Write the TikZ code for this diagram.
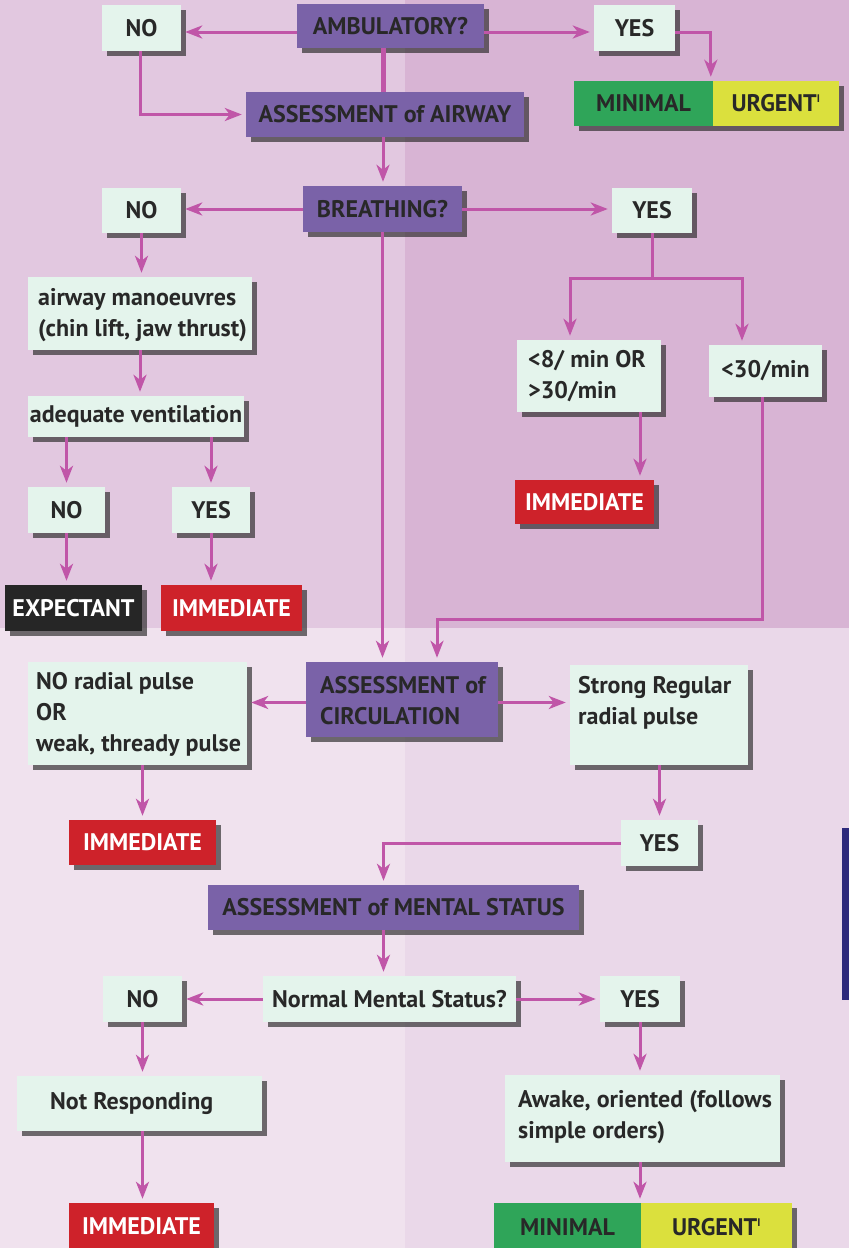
\documentclass[tikz,border=0pt]{standalone}
\usepackage{fontspec}
\setmainfont{PT Sans}
\usetikzlibrary{arrows.meta,shadows}
\definecolor{bgTL}{RGB}{226,200,224}
\definecolor{bgTR}{RGB}{216,180,212}
\definecolor{bgBL}{RGB}{240,226,238}
\definecolor{bgBR}{RGB}{234,216,233}
\definecolor{mint}{RGB}{228,244,236}
\definecolor{purp}{RGB}{122,98,168}
\definecolor{redb}{RGB}{206,34,42}
\definecolor{grn}{RGB}{47,165,89}
\definecolor{yel}{RGB}{219,224,61}
\definecolor{blk}{RGB}{38,38,38}
\definecolor{arr}{RGB}{192,86,168}
\definecolor{txt}{RGB}{40,40,40}
\definecolor{barc}{RGB}{46,42,124}
\newcommand\bx[7]{\node[#1, minimum width={(#5)-(#3)}, minimum height={(#6)-(#4)}] (#2) at ({((#3)+(#5))/2},{((#4)+(#6))/2}) {#7};}
\begin{document}
\begin{tikzpicture}[x=1pt,y=-1pt,
  base/.style={rectangle, inner sep=0pt, font=\bfseries\fontsize{24}{31}\selectfont, text=txt,
    drop shadow={shadow xshift=5pt, shadow yshift=-5pt, opacity=0.65, fill=black!85}},
  lightbox/.style={base, fill=mint},
  purplebox/.style={base, fill=purp},
  redbox/.style={base, fill=redb, text=white},
  greenbox/.style={base, fill=grn},
  yellowbox/.style={base, fill=yel},
  blackbox/.style={base, fill=blk, text=white},
  lbl/.style={inner sep=0pt, align=left, anchor=west, font=\bfseries\fontsize{24}{31}\selectfont, text=txt},
  conn/.style={draw=arr, line width=3pt},
  arw/.style={conn, -{Stealth[length=17pt,width=13pt,inset=5pt]}, shorten >=4pt},
]
\useasboundingbox (0,0) rectangle (849,1248);
\fill[bgTL] (0,0) rectangle (405,628);
\fill[bgTR] (405,0) rectangle (849,628);
\fill[bgBL] (0,628) rectangle (405,1248);
\fill[bgBR] (405,628) rectangle (849,1248);
\fill[barc] (842,828) rectangle (849,1000);

% boxes
\bx{lightbox}{no1}{102}{5}{181}{51}{NO}
\bx{purplebox}{amb}{297}{4}{484}{48}{AMBULATORY?}
\bx{lightbox}{yes1}{594}{5}{675}{51}{YES}
\bx{greenbox}{min1}{574}{81}{713}{126}{MINIMAL}
\bx{yellowbox}{urg1}{713}{81}{839}{126}{URGENT\textsuperscript{\fontsize{11}{11}\selectfont I}}
\bx{purplebox}{airw}{246}{92}{524}{137}{ASSESSMENT of AIRWAY}
\bx{lightbox}{no2}{102}{188}{181}{233}{NO}
\bx{purplebox}{breath}{303}{186}{462}{232}{BREATHING?}
\bx{lightbox}{yes2}{612}{188}{692}{233}{YES}
\bx{lightbox}{airman}{28}{277}{252}{350}{}
\node[lbl] (airmanT) at (38,315.5) {airway manoeuvres\\(chin lift, jaw thrust)};
\bx{lightbox}{lo8}{517}{340}{661}{412}{}
\node[lbl] (lo8T) at (528,376) {<8/ min OR\\>30/min};
\bx{lightbox}{lo30}{709}{345}{822}{397}{<30/min}
\bx{lightbox}{adeq}{28}{396}{244}{437}{adequate ventilation}
\bx{lightbox}{no3}{28}{487}{105}{533}{NO}
\bx{lightbox}{yes5}{172}{487}{250}{533}{YES}
\bx{redbox}{imm1}{515}{480}{654}{524}{IMMEDIATE}
\bx{blackbox}{exp}{5}{585}{142}{631}{EXPECTANT}
\bx{redbox}{imm4}{161}{585}{302}{631}{IMMEDIATE}
\bx{purplebox}{circ}{306}{662}{498}{737}{}
\node[lbl] (circT) at (320,700.5) {ASSESSMENT of\\CIRCULATION};
\bx{lightbox}{nr}{28}{662}{247}{765}{}
\node[lbl] (nrT) at (36,714) {NO radial pulse\\OR\\weak, thready pulse};
\bx{lightbox}{strong}{570}{665}{748}{765}{}
\node[lbl] (strongT) at (578,702.5) {Strong Regular\\radial pulse};
\bx{redbox}{imm2}{69}{820}{216}{865}{IMMEDIATE}
\bx{lightbox}{yes3}{621}{820}{698}{866}{YES}
\bx{purplebox}{mental}{208}{885}{579}{930}{ASSESSMENT of MENTAL STATUS}
\bx{lightbox}{normal}{263}{976}{516}{1022}{Normal Mental Status?}
\bx{lightbox}{no4}{103}{976}{182}{1022}{NO}
\bx{lightbox}{yes4}{600}{976}{680}{1022}{YES}
\bx{lightbox}{notr}{17}{1076}{262}{1131}{}
\node[lbl] (notrT) at (50,1103) {Not Responding};
\bx{lightbox}{awake}{505}{1075}{780}{1162}{}
\node[lbl] (awakeT) at (518,1117.5) {Awake, oriented (follows\\simple orders)};
\bx{redbox}{imm3}{69}{1203}{214}{1250}{IMMEDIATE}
\bx{greenbox}{min2}{494}{1203}{641}{1252}{MINIMAL}
\bx{yellowbox}{urg2}{641}{1203}{792}{1252}{URGENT\textsuperscript{\fontsize{11}{11}\selectfont I}}

% connectors
\draw[arw] ([yshift=-6pt]amb.west) -- ([yshift=-6pt]amb.west -| no1.east);
\draw[arw] ([yshift=-6pt]amb.east) -- ([yshift=-6pt]amb.east -| yes1.west);
\draw[arw] ([yshift=-4pt]yes1.east) -| ([xshift=-2pt]urg1.north west);
\draw[arw] (no1.south -| 140,0) |- (airw.west);
\draw[conn, line width=5pt] ([xshift=-7pt]amb.south) -- ([xshift=-7pt]amb.south |- airw.north);
\draw[arw] ([xshift=-2pt]airw.south) -- ([xshift=-2pt]airw.south |- breath.north);
\draw[arw] (breath.west) -- (breath.west -| no2.east);
\draw[arw] (breath.east) -- (breath.east -| yes2.west);
\draw[arw] (breath.south) -- (breath.south |- circ.north);
\coordinate (sL) at (570,278);
\coordinate (sR) at (742,278);
\draw[conn] (yes2.south) -- (yes2.south |- sL);
\draw[conn, line cap=rect] (sL) -- (sR);
\draw[arw] (sL) -- (sL |- lo8.north);
\draw[arw] (sR) -- (sR |- lo30.north);
\draw[arw] ([xshift=51pt]lo8.south) -- ([xshift=51pt]lo8.south |- imm1.north);
\draw[arw] ([xshift=-3pt]lo30.south) |- ([xshift=35pt,yshift=42pt]circ.north) -- ([xshift=35pt]circ.north);
\draw[arw] (no2.south) -- (no2.south |- airman.north);
\draw[arw] (airman.south) -- (airman.south |- adeq.north);
\draw[arw] (no3.north |- adeq.south) -- (no3.north);
\draw[arw] (yes5.north |- adeq.south) -- (yes5.north);
\draw[arw] (no3.south) -- (no3.south |- exp.north);
\draw[arw] (yes5.south) -- (yes5.south |- imm4.north);
\draw[arw] ([yshift=-3pt]circ.west) -- ([yshift=-3pt]circ.west -| nr.east);
\draw[arw] ([yshift=-3pt]circ.east) -- ([yshift=-3pt]circ.east -| strong.west);
\draw[arw] (imm2.north |- nr.south) -- (imm2.north);
\draw[arw] (yes3.north |- strong.south) -- (yes3.north);
\draw[arw] (yes3.west) -| ([xshift=-10pt]mental.north);
\draw[arw] ([xshift=-10pt]mental.south) -- ([xshift=-10pt]mental.south |- normal.north);
\draw[arw] (normal.west) -- (normal.west -| no4.east);
\draw[arw] (normal.east) -- (normal.east -| yes4.west);
\draw[arw] (no4.south) -- (no4.south |- notr.north);
\draw[arw] (yes4.south) -- (yes4.south |- awake.north);
\draw[arw] (no4.south |- notr.south) -- (no4.south |- imm3.north);
\draw[arw] (yes4.south |- awake.south) -- (yes4.south |- min2.north);
\end{tikzpicture}
\end{document}
